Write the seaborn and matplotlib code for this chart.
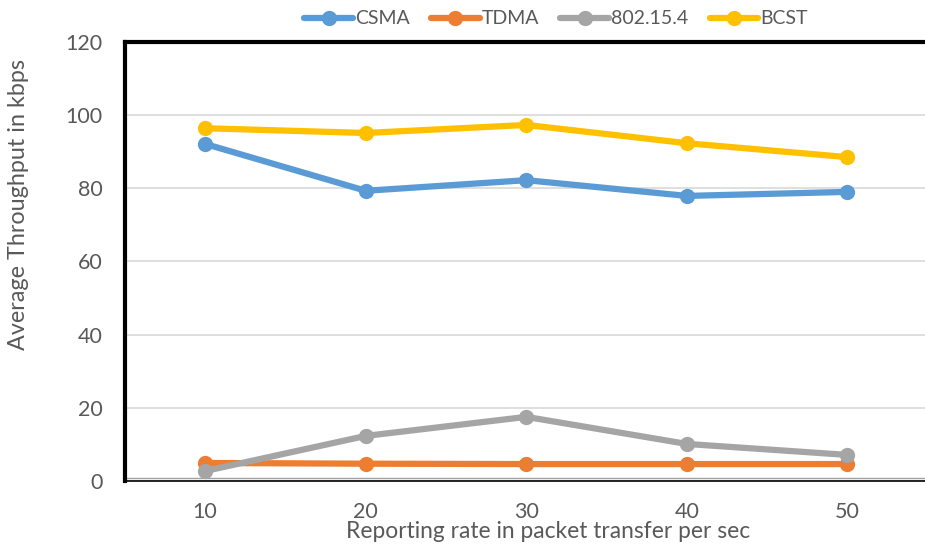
import matplotlib
matplotlib.use("Agg")
import matplotlib.pyplot as plt
import seaborn as sns
import pandas as pd

rates = [10, 20, 30, 40, 50]
csma = [92.1, 79.3, 82.2, 77.9, 79.0]
tdma = [4.9, 4.7, 4.6, 4.6, 4.6]
ieee = [2.7, 12.3, 17.5, 10.1, 7.1]
bcst = [96.4, 95.1, 97.3, 92.3, 88.5]
series_names = ["CSMA", "TDMA", "802.15.4", "BCST"]
colors = ["#5B9BD5", "#ED7D31", "#A5A5A5", "#FFC000"]
yticks = [0, 20, 40, 60, 80, 100, 120]

rows = []
for name, vals in zip(series_names, [csma, tdma, ieee, bcst]):
    for r, v in zip(rates, vals):
        rows.append({"rate": r, "value": v, "series": name})
df = pd.DataFrame(rows)

sns.set_style("white")
plt.rcParams["font.family"] = ["Lato", "DejaVu Sans"]

fig = plt.figure(figsize=(9.25, 5.44), dpi=100)
ax = fig.add_axes([0.135, 0.116, 0.868, 0.807])

sns.lineplot(data=df, x="rate", y="value", hue="series", hue_order=series_names,
             palette=colors, marker="o", markersize=11, linewidth=4.5,
             markeredgewidth=0, ax=ax, legend=True, zorder=3)

ax.set_xlim(5, 55)
ax.set_ylim(0, 120)
ax.set_xticks(rates)
ax.set_yticks(yticks)
ax.yaxis.grid(True, color="#D9D9D9", linewidth=1.2, zorder=0)
ax.set_axisbelow(True)
ax.tick_params(axis="both", length=0, labelsize=15.5, labelcolor="#595959")
ax.tick_params(axis="x", pad=15)
ax.tick_params(axis="y", pad=16)

for s in ["left", "top"]:
    ax.spines[s].set_color("black")
    ax.spines[s].set_linewidth(3)
ax.spines["right"].set_visible(False)
ax.spines["bottom"].set_color("black")
ax.spines["bottom"].set_linewidth(1.2)
ax.axhline(0.8, color="#A0A0A0", linewidth=1.0, zorder=1)

ax.set_xlabel("Reporting rate in packet transfer per sec", fontsize=16.4,
              color="#595959")
ax.xaxis.set_label_coords(0.527, -0.116, transform=ax.transAxes)
ax.xaxis.label.set_va("center")
ax.set_ylabel("Average Throughput in kbps", fontsize=16.8, color="#595959")
ax.yaxis.set_label_coords(-0.133, 0.629, transform=ax.transAxes)
ax.yaxis.label.set_va("center")

handles, labels = ax.get_legend_handles_labels()
ax.get_legend().remove()
leg = fig.legend(handles, labels, loc="upper center", bbox_to_anchor=(0.601, 1.013),
                 ncol=4, frameon=False, fontsize=14, handlelength=2.5,
                 handletextpad=0.1, columnspacing=1.1)
for t in leg.get_texts():
    t.set_color("#595959")

fig.savefig("out.png", dpi=100)
